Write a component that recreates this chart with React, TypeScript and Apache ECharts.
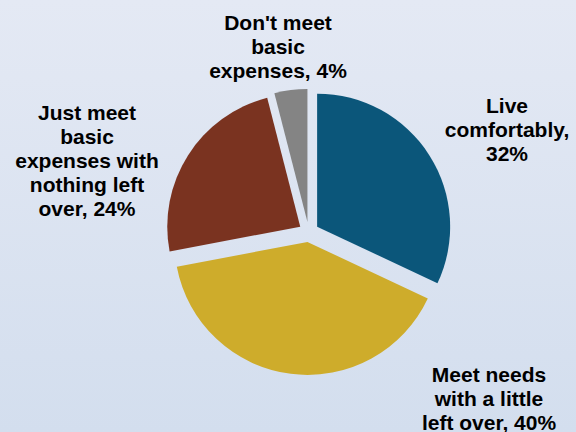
import React, { useEffect, useRef } from "react";
import * as echarts from "echarts";

const categories = [
  "Live comfortably",
  "Meet needs with a little left over",
  "Just meet basic expenses with nothing left over",
  "Don't meet basic expenses",
];
const values = [32, 40, 24, 4];
const labelTexts = [
  "Live\ncomfortably,\n32%",
  "Meet needs\nwith a little\nleft over, 40%",
  "Just meet\nbasic\nexpenses with\nnothing left\nover, 24%",
  "Don't meet\nbasic\nexpenses, 4%",
];
const colors = ["#0B567A", "#CEAC2B", "#7A3320", "#848484"];
const labelPos: [number, number][] = [
  [507, 129],
  [489, 398],
  [87, 160],
  [278, 46],
];

export default function App() {
  const ref = useRef<HTMLDivElement>(null);
  useEffect(() => {
    if (!ref.current) return;
    const chart = echarts.init(ref.current, null, { renderer: "svg" });
    chart.setOption({
      animation: false,
      backgroundColor: new echarts.graphic.LinearGradient(0, 0, 0, 1, [
        { offset: 0, color: "#E4E9F4" },
        { offset: 1, color: "#D3DEEE" },
      ]),
      graphic: labelTexts.map((t, i) => ({
        type: "text",
        x: labelPos[i][0],
        y: labelPos[i][1],
        silent: true,
        style: {
          text: t,
          fill: "#000",
          font: "bold 21px 'Liberation Sans', Arial, sans-serif",
          lineHeight: 24,
          align: "center",
          verticalAlign: "middle",
        },
      })),
      series: [
        {
          type: "pie",
          center: [308.7, 232],
          radius: 133,
          startAngle: 90,
          clockwise: true,
          selectedMode: "multiple",
          selectedOffset: 10,
          emphasis: { disabled: true },
          labelLine: { show: false },
          label: { show: false },
          data: categories.map((name, i) => ({
            name,
            value: values[i],
            selected: true,
            itemStyle: { color: colors[i] },
          })),
        },
      ],
    });
    return () => chart.dispose();
  }, []);
  return (
    <div
      ref={ref}
      style={{ position: "absolute", left: 0, top: 0, width: 576, height: 432 }}
    />
  );
}
